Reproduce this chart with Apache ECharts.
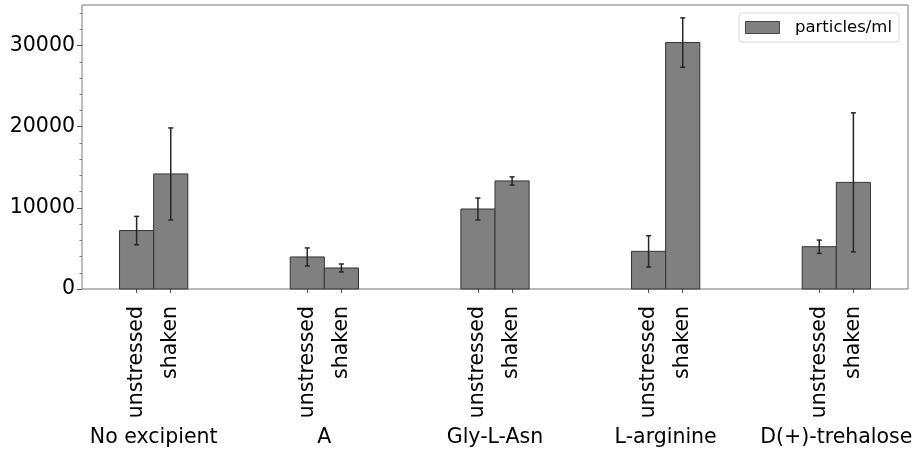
<!DOCTYPE html>
<html>
<head>
<meta charset="utf-8">
<script src="https://cdn.jsdelivr.net/npm/echarts@6/dist/echarts.min.js"></script>
<style>
html,body{margin:0;padding:0;background:#fff;}
#chart{width:917px;height:452px;}
</style>
</head>
<body>
<div id="chart"></div>
<script>
const groups = ['No excipient', 'A', 'Gly-L-Asn', 'L-arginine', 'D(+)-trehalose'];
const conditions = ['unstressed', 'shaken'];
const unstressed = [7200, 3950, 9860, 4640, 5210];
const unstressedErr = [1750, 1110, 1350, 1930, 820];
const shaken = [14180, 2590, 13320, 30370, 13140];
const shakenErr = [5670, 490, 500, 3040, 8570];
const yTicks = [0, 10000, 20000, 30000];
const seriesName = 'particles/ml';

const offset = 0.1;   // half bar width in group units
const data = [];
const tickPos = [];
const tickLabel = {};
groups.forEach((g, i) => {
  data.push([i - offset, unstressed[i], unstressedErr[i]]);
  data.push([i + offset, shaken[i], shakenErr[i]]);
  tickPos.push(i - offset, i + offset);
  tickLabel[(i - offset).toFixed(2)] = conditions[0];
  tickLabel[(i + offset).toFixed(2)] = conditions[1];
});
const groupPos = groups.map((g, i) => i);

const FONT = 'DejaVu Sans';
const chart = echarts.init(document.getElementById('chart'), null, {renderer: 'canvas'});

chart.setOption({
  animation: false,
  backgroundColor: '#fff',
  grid: {left: 82, right: 9, top: 5, bottom: 163, show: true, borderColor: '#777', borderWidth: 1, containLabel: false},
  legend: {
    right: 18, top: 13,
    data: [{name: seriesName, icon: 'rect'}],
    itemWidth: 34, itemHeight: 12,
    itemStyle: {color: '#808080', borderColor: '#444', borderWidth: 1},
    padding: [6, 7, 6, 6],
    borderColor: '#d8d8d8', borderWidth: 1, borderRadius: 3,
    backgroundColor: '#fff',
    formatter: n => '  ' + n,
    textStyle: {fontFamily: FONT, fontSize: 16.5, color: '#000'}
  },
  xAxis: [
    {
      type: 'value', min: -0.42, max: 4.42, position: 'bottom',
      axisLine: {show: false, onZero: false},
      splitLine: {show: false},
      axisTick: {show: true, customValues: tickPos, length: 4, lineStyle: {color: '#555'}},
      axisLabel: {
        customValues: tickPos, rotate: 90, margin: 17,
        fontFamily: FONT, fontSize: 20.5, color: '#000',
        formatter: v => tickLabel[Number(v).toFixed(2)] || ''
      }
    },
    {
      type: 'value', min: -0.42, max: 4.42, position: 'bottom',
      axisLine: {show: false, onZero: false},
      splitLine: {show: false},
      axisTick: {show: false},
      axisLabel: {
        customValues: groupPos, margin: 138,
        fontFamily: FONT, fontSize: 20.5, color: '#000',
        formatter: v => groups[Math.round(v)] || ''
      }
    }
  ],
  yAxis: {
    type: 'value', min: 0, max: 35000, interval: 10000, position: 'left',
    axisLine: {show: false, onZero: false},
    splitLine: {show: false},
    axisTick: {show: true, length: 5, lineStyle: {color: '#555'}, customValues: yTicks},
    minorTick: {show: true, splitNumber: 5, length: 2.5, lineStyle: {color: '#777'}},
    axisLabel: {
      customValues: yTicks, margin: 7,
      fontFamily: FONT, fontSize: 20.5, color: '#000',
      formatter: v => String(Math.round(v))
    }
  },
  series: [{
    name: seriesName,
    type: 'custom',
    xAxisIndex: 0, yAxisIndex: 0,
    itemStyle: {color: '#808080', borderColor: '#444', borderWidth: 1},
    encode: {x: 0, y: 1},
    data: data,
    renderItem: function (params, api) {
      const x = api.value(0), v = api.value(1), e = api.value(2);
      const p0 = api.coord([x - offset, v]);
      const p1 = api.coord([x + offset, 0]);
      const top = api.coord([x, v + e]);
      const bot = api.coord([x, v - e]);
      const cap = 2.5;
      const lineStyle = {stroke: '#262626', lineWidth: 1.5};
      return {
        type: 'group',
        children: [
          {type: 'rect', shape: {x: p0[0], y: p0[1], width: p1[0] - p0[0], height: p1[1] - p0[1]},
           style: {fill: '#808080', stroke: '#333', lineWidth: 1}},
          {type: 'line', shape: {x1: top[0], y1: top[1], x2: bot[0], y2: bot[1]}, style: lineStyle},
          {type: 'line', shape: {x1: top[0] - cap, y1: top[1], x2: top[0] + cap, y2: top[1]}, style: lineStyle},
          {type: 'line', shape: {x1: bot[0] - cap, y1: bot[1], x2: bot[0] + cap, y2: bot[1]}, style: lineStyle}
        ]
      };
    }
  }]
});
</script>
</body>
</html>
